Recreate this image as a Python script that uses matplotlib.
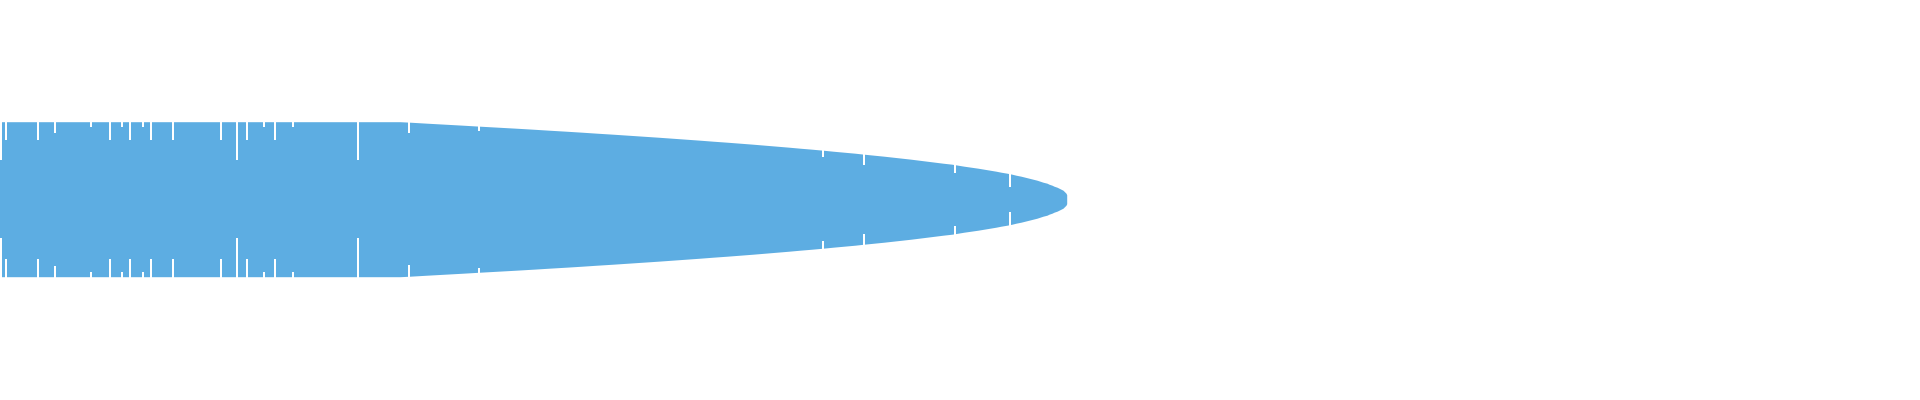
import matplotlib
matplotlib.use("Agg")
import matplotlib.pyplot as plt
import numpy as np

# outline of the shape: position along the axis and half-height
profile_x = [-5, 400, 410, 427, 445, 463, 480, 498, 516, 533, 549, 566, 582, 597, 613,
             628, 643, 658, 672, 686, 700, 713, 727, 740, 753, 765, 777, 789, 800, 812,
             823, 833, 844, 855, 864, 874, 884, 893, 902, 911, 919, 927, 935, 943, 952,
             958, 964, 971, 978, 984, 990, 996, 1001, 1007, 1012, 1016, 1021, 1025, 1029,
             1033, 1037, 1040, 1043, 1047, 1049, 1052, 1054, 1057, 1059, 1061, 1063, 1064,
             1065, 1066, 1066.7]
profile_h = [77.5, 77.5, 77, 76, 75, 74, 73, 72, 71, 70, 69, 68, 67, 66, 65,
             64, 63, 62, 61, 60, 59, 58, 57, 56, 55, 54, 53, 52, 51, 50,
             49, 48, 47, 46, 45, 44, 43, 42, 41, 40, 39, 38, 37, 36, 35,
             34, 33, 32, 31, 30, 29, 28, 27, 26, 25, 24, 23, 22, 21,
             20, 19, 18, 17, 16, 15, 14, 13, 12, 11, 10, 9, 8,
             7, 6, 4.5]

# white ticks: position and how deep they cut in from the edge (share of half-height)
tick_x = [1, 5.8, 38.2, 55, 90.8, 109.8, 121.8, 129.8, 143.2, 150.8, 172.8, 220.5,
          236.5, 247, 264, 275, 293, 358, 409, 479, 823, 864, 955, 1010]
tick_depth = [0.50, 0.23, 0.23, 0.14, 0.065, 0.23, 0.065, 0.23, 0.065, 0.23, 0.23, 0.23,
              0.50, 0.23, 0.065, 0.23, 0.065, 0.50, 0.14, 0.065, 0.14, 0.23, 0.23, 0.50]

fig = plt.figure(figsize=(19.2, 4), dpi=100)
ax = fig.add_axes([0, 0, 1, 1])
ax.set_xlim(0, 1920)
ax.set_ylim(-200.8, 199.2)
ax.axis("off")

px = np.array(profile_x)
ph = np.array(profile_h)
ax.fill_between(px, -ph, ph, color="#5DADE2", linewidth=0, antialiased=False)

tx = np.array(tick_x)
th = np.interp(tx, px, ph)
inner = th * (1 - np.array(tick_depth))
ax.vlines(tx, inner, th + 2, colors="white", linewidth=1.2, antialiased=False)
ax.vlines(tx, -th - 2, -inner, colors="white", linewidth=1.2, antialiased=False)

fig.savefig("out.png", dpi=100)
